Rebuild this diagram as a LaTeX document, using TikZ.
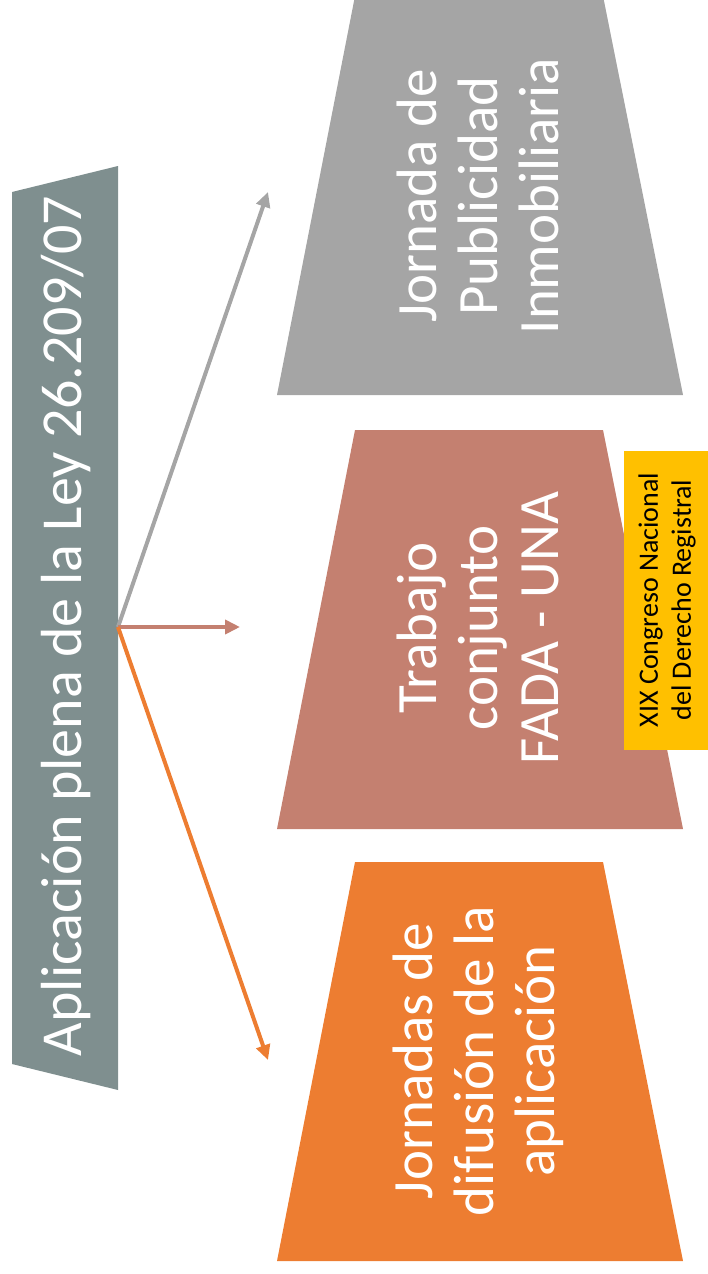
\documentclass[tikz,border=0pt]{standalone}
\usepackage{fontspec}
\setmainfont{Carlito}
\usetikzlibrary{arrows.meta}

\definecolor{bannergrey}{RGB}{127,143,143}
\definecolor{pubgrey}{RGB}{165,165,165}
\definecolor{fadabrown}{RGB}{196,128,112}
\definecolor{difusion}{RGB}{237,125,49}
\definecolor{congress}{RGB}{255,192,0}

\tikzstyle{titletext} = [text=white, font=\fontsize{58}{70}\selectfont, rotate=90]
\tikzstyle{boxtext} = [text=white, align=center, font=\fontsize{57}{61}\selectfont, rotate=90]
\tikzstyle{notebox} = [rectangle, fill=congress, minimum width=299pt, minimum height=86pt, align=center, font=\fontsize{28}{33}\selectfont, rotate=90]
\tikzstyle{flow} = [line width=4pt, -{Triangle[length=15pt,width=14pt]}]

\begin{document}
\begin{tikzpicture}[x=1pt, y=-1pt]
      \useasboundingbox (0,0) rectangle (707,1274);

      \fill[bannergrey] (12,192) -- (118,166) -- (118,1090) -- (12,1064) -- cycle;
      \fill[pubgrey] (355,-4) -- (603,-4) -- (683,395) -- (277,395) -- cycle;
      \fill[fadabrown] (355,430) -- (603,430) -- (683,829) -- (277,829) -- cycle;
      \fill[difusion] (355,862) -- (603,862) -- (683,1261) -- (277,1261) -- cycle;

      \node (title) [titletext] at (66,626) {Aplicación plena de la Ley 26.209/07};
      \node (pub) [boxtext] at (478,196) {Jornada de\\Publicidad\\Inmobiliaria};
      \node (fada) [boxtext] at (478,628) {Trabajo\\conjunto\\FADA - UNA};
      \node (dif) [boxtext] at (478,1061) {Jornadas de\\difusión de la\\aplicación};
      \node (xix) [notebox] at (667,600) {XIX Congreso Nacional\\del Derecho Registral};

      \coordinate (hub) at (118,627);
      \coordinate (pubtip) at (268,192);
      \coordinate (fadatip) at (240,627);
      \coordinate (diftip) at (268,1060);

      \draw [flow, pubgrey] (hub) -- (pubtip);
      \draw [flow, fadabrown] (hub) -- (fadatip);
      \draw [flow, difusion] (hub) -- (diftip);
    \end{tikzpicture}
\end{document}
